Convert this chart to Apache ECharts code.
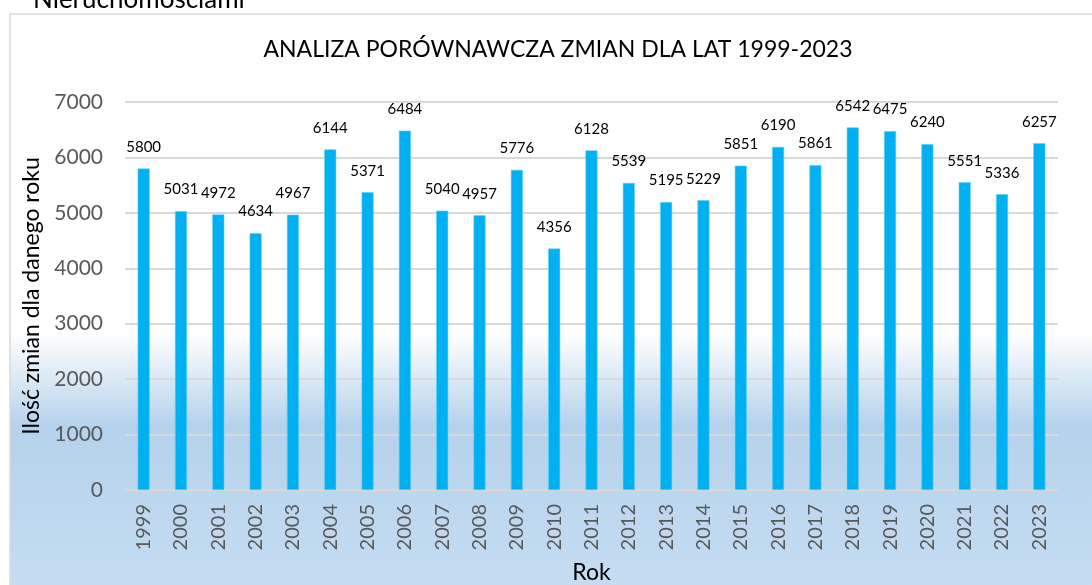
<!DOCTYPE html>
<html>
<head>
<meta charset="utf-8">
<script src="https://cdn.jsdelivr.net/npm/echarts@6/dist/echarts.min.js"></script>
<style>
  html, body { margin: 0; padding: 0; background: #fff; }
  #chart { width: 1092px; height: 585px; }
</style>
</head>
<body>
<div id="chart"></div>
<script>
const years = ['1999', '2000', '2001', '2002', '2003', '2004', '2005', '2006', '2007', '2008',
  '2009', '2010', '2011', '2012', '2013', '2014', '2015', '2016', '2017', '2018',
  '2019', '2020', '2021', '2022', '2023'];
const changes = [5800, 5031, 4972, 4634, 4967, 6144, 5371, 6484, 5040, 4957,
  5776, 4356, 6128, 5539, 5195, 5229, 5851, 6190, 5861, 6542,
  6475, 6240, 5551, 5336, 6257];

const titleText = 'ANALIZA PORÓWNAWCZA ZMIAN DLA LAT 1999-2023';
const headingText = 'Nieruchomościami';
const font = 'Lato, "Noto Sans", sans-serif';

const chart = echarts.init(document.getElementById('chart'));

chart.setOption({
  animation: false,
  graphic: [
    {
      type: 'rect',
      z: -10,
      shape: { x: 10, y: 14, width: 1100, height: 580 },
      style: {
        stroke: '#d9d9d9',
        lineWidth: 1.5,
        fill: new echarts.graphic.LinearGradient(0, 0, 0, 1, [
          { offset: 0, color: '#ffffff' },
          { offset: 0.55, color: '#ffffff' },
          { offset: 0.71, color: '#b5d2ec' },
          { offset: 1, color: '#c7ddf1' },
        ]),
      },
    },
    {
      type: 'text',
      x: 33,
      y: 0,
      style: {
        text: headingText,
        font: '26px ' + font,
        fill: '#000',
        verticalAlign: 'middle',
      },
    },
    {
      type: 'text',
      x: 558,
      y: 50,
      style: {
        text: titleText,
        font: '23px ' + font,
        fill: '#000',
        align: 'center',
        verticalAlign: 'middle',
      },
    },
  ],
  grid: { left: 125, right: 34, top: 102, bottom: 95, outerBoundsMode: 'none' },
  xAxis: {
    type: 'category',
    data: years,
    name: 'Rok',
    nameLocation: 'middle',
    nameGap: 71,
    nameTextStyle: { fontFamily: font, fontSize: 23, color: '#000' },
    axisLine: { show: false },
    axisTick: { show: false },
    axisLabel: {
      rotate: 90,
      margin: 14,
      fontFamily: font,
      fontSize: 20,
      color: '#595959',
      interval: 0,
    },
  },
  yAxis: {
    type: 'value',
    min: 0,
    max: 7000,
    interval: 1000,
    name: 'Ilość zmian dla danego roku',
    nameLocation: 'middle',
    nameGap: 82,
    nameTextStyle: { fontFamily: font, fontSize: 23, color: '#000' },
    axisLabel: {
      margin: 22,
      fontFamily: font,
      fontSize: 21,
      color: '#595959',
      formatter: v => String(v),
    },
    splitLine: { lineStyle: { color: '#d9d9d9', width: 2 } },
  },
  series: [
    {
      type: 'bar',
      data: changes,
      barWidth: 12,
      itemStyle: { color: '#00b0f0', borderColor: '#5fcdf5', borderWidth: 0.6 },
      label: {
        show: true,
        position: 'top',
        distance: 14,
        fontFamily: font,
        fontSize: 15,
        color: '#000',
      },
    },
  ],
});
</script>
</body>
</html>
